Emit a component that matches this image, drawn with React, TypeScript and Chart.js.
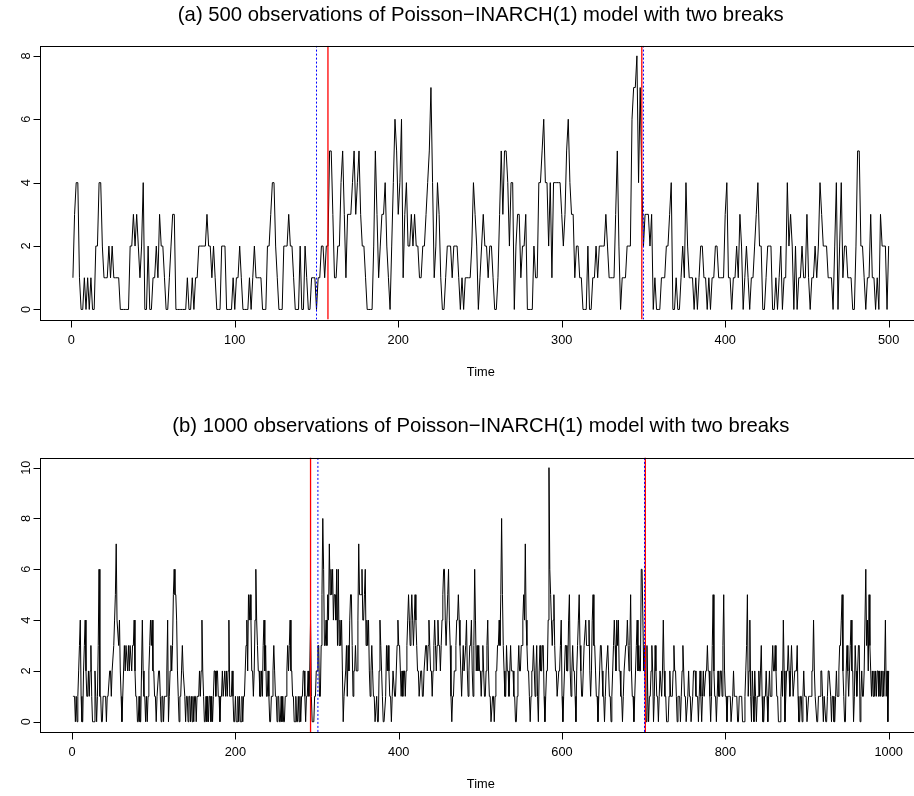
import React, { useEffect, useRef } from 'react';
import { Chart, registerables } from 'chart.js';

Chart.register(...registerables);

// ---------- Panel (a): 500 observations, read in six stretches ----------
const a1 = [1,3,4,4,1,0,0,1,0,1, 0,1,0,0,2,2,4,4,2,1, 1,1,2,1,2,1,1,1,1,0, 0,0,0,0,0,2,2,3,2,3,
  2,1,2,4,0,0,2,0,0,1, 1,2,1,3,2,2,1,0,0,1, 2,3,3,0,0,0,0,0,0,0, 1,0,0,1,0,1,1,2,2];
const a2 = [2,2,2,3,2,2,1,2,1,0, 0,0,2,2,2,0,0,0,0,1, 0,1,1,2,1,0,0,0,0,1, 0,1,2,1,1,1,1,0,0,0,
  2,2,3,4,4,2,1,0,0,0, 2,2,2,3,2,2,1,0,0,0, 2,0,0,2,1,0,0,1,1,1, 0,1,1,2,2,1,2,2,5,5, 3,1,1,2];
const a3 = [2,4,5,3,1,3,3,3,4,5, 3,4,5,3,2,2,1,0,0,0, 0,2,5,3,1,2,3,3,4,2, 1,0,2,4,6,5,3,4,6,1,
  3,4,2,2,3,2,3,2,2,1, 1,2,2,3,4,5,7,4,1,2, 4,3,1,0,0,1,2,2,2,1, 2,2,2,1,0,1,0,1,1,1, 1,2,4,3,2];
const a4 = [0,1,2,3,2,2,1,2,2,1, 0,0,1,3,5,3,5,5,4,2, 4,4,0,2,3,3,1,2,2,3, 0,0,0,0,2,1,1,4,4,5,
  6,4,4,2,4,1,4,4,4,4, 4,3,2,3,5,6,4,3,3,1, 2,2,1,1,0,0,0,2,0,0, 1,1,2,1,2,2,2,2,3,2, 1,1,1,1,3];
const a5 = [5,2,0,1,1,1,2,2,2,6, 7,7,8,4,7,4,2,3,3,3, 2,3,0,1,0,0,0,1,1,1, 2,2,3,4,0,0,1,0,0,1,
  2,1,4,2,1,1,1,0,1,0, 1,2,2,1,1,0,1,0,1,1, 2,2,1,1,1,1,3,4,1,1, 0,1,1,2,1,3,2,0,1,2, 1,0,1];
const a6 = [1,2,3,4,2,2,0,0,1,2, 2,2,0,0,1,0,1,2,0,1, 1,4,2,3,2,0,2,0,1,1, 2,1,1,3,1,0,1,1,2,1,
  2,4,3,2,2,2,1,1,1,0, 2,4,0,2,4,1,2,2,1,1, 1,0,0,2,5,5,2,2,1,0, 1,1,3,1,1,0,1,0,3,2, 2,2,0,2];

// ---------- Panel (b): 1000 observations, read in six stretches ----------
const b1 = [1,1,1,0,1,0,1,2,3,4, 1,0,0,2,3,4,2,1,1,2, 1,2,3,1,0,0,0,2,1,0, 1,3,6,1,1,0,0,1,1,1,
  1,0,1,1,1,2,2,1,2,2, 3,4,5,7,4,4,3,4,2,1, 0,1,2,3,2,3,3,2,3,2, 3,3,2,3,3,4,2,1,1,0,
  0,1,0,0,2,4,2,1,1,0, 1,0,1,2,3,4,3,4,2,2, 1,1,0,1,1,2,2,1,0,1, 1,0,1,1,1,2,4,0,1,2,
  3,2,3,5,6,5,5,4,2,1, 0,1,1,2,3,2,2,1,0,1, 1,0,1,1,0,1,0,1,0,1, 1,0,1,1,1,2,1,2,4,2];
const b2 = [1,0,0,1,0,1,0,1,1,0, 1,0,1,2,2,1,2,2,1,1, 0,1,1,2,1,1,2,1,2,1, 2,4,1,1,1,2,1,0,0,1,
  0,0,1,0,1,0,0,1,0,1, 1,2,3,4,2,5,4,5,4,2, 2,1,2,4,6,4,3,2,2,1, 1,2,1,3,4,2,3,1,1,2,
  1,0,0,1,1,2,3,2,1,1, 0,1,1,0,0,1,0,1,0,0, 1,1,2,3,2,3,4,2,2,1, 1,0,0,1,0,0,1,0,1,0,
  1,1,2,2,1,0,1,1,2,1, 2,4,1,0,0,0,1,1,2,2, 3,3,1,1,3,5,8,6,3,3, 4,3,5,4,7,5,6,5,6,4, 5,5,4,6,3,6];
const b3 = [3,4,3,4,2,0,1,1,2,3, 1,3,2,4,5,5,3,1,2,2, 3,2,2,4,7,5,5,5,6,4, 4,5,6,3,4,3,4,2,1,2,
  3,2,1,1,0,0,1,0,0,2, 4,3,2,1,0,0,0,1,3,2, 3,2,1,1,0,1,2,2,1,1, 2,3,4,3,3,2,1,2,1,2,
  2,1,2,3,4,5,4,3,4,5, 4,3,4,5,4,3,2,2,1,1, 2,2,1,1,2,2,3,3,2,3, 4,3,2,2,1,2,3,4,3,2,
  3,4,3,3,2,3,4,5,6,6, 4,3,3,5,6,4,3,1,0,1, 1,2,2,3,4,4,5,4,3,2, 1,2,3,2,2,3,4,2,1,2, 3,3,4,2,1,3,6,4,2];
const b4 = [3,2,3,2,2,1,2,3,2,1, 1,2,3,4,2,1,1,0,0,1, 1,0,1,2,2,3,3,4,3,5, 8,5,3,2,1,1,3,2,2,1,
  2,3,2,2,2,1,1,0,0,1, 2,3,2,2,3,3,4,5,4,7, 4,3,2,2,1,0,1,2,2,3, 2,1,2,3,1,0,2,3,2,2,
  3,3,1,0,1,2,2,4,10,6, 5,4,3,4,5,3,2,2,1,1, 2,2,3,4,1,0,1,2,3,3, 2,2,4,5,2,1,2,3,2,2,
  1,0,2,3,4,5,3,2,1,1, 2,3,3,4,3,3,3,4,2,1, 2,4,5,3,3,2,1,1,0,1, 2,3,3,2,1,1,0,1,2,2, 3,2,1,1,0,1,2,3,4];
const b5 = [3,2,4,3,4,2,2,1,1,0, 1,2,2,3,3,4,3,2,3,5, 2,1,1,0,1,2,3,4,2,3, 2,2,6,6,6,2,3,1,0,3,
  1,0,1,1,2,3,2,0,1,3, 2,1,1,0,1,2,2,1,2,4, 2,1,1,0,0,0,1,2,1,1, 1,2,3,2,2,1,0,1,1,1,
  0,1,2,3,2,1,1,0,0,1, 2,1,1,0,0,1,2,2,2,1, 1,1,0,1,2,1,0,1,2,1, 1,2,2,3,2,2,1,0,1,3,
  5,2,1,1,0,1,2,1,1,2, 2,1,3,5,2,1,1,0,1,1, 1,1,0,0,1,2,1,1,1,1, 0,0,1,1,1,1,0,0,0,1, 2,3,5,1,2,4,1,0,2];
const b6 = [1,0,2,1,0,1,1,2,1,2, 3,1,0,0,1,1,2,1,0,1, 2,1,1,2,3,2,2,3,2,1, 1,0,0,0,1,2,1,4,2,0,
  1,2,2,3,2,1,2,3,2,1, 1,2,2,2,3,1,0,0,1,1, 0,1,2,1,1,1,0,0,1,1, 1,1,2,2,4,2,1,1,0,0,
  1,1,1,2,2,1,0,1,1,0, 0,1,2,2,2,1,0,1,1,0, 0,1,2,1,1,2,3,3,4,5, 2,1,0,0,2,3,2,1,2,3,
  4,2,2,0,1,3,2,1,2,3, 3,0,1,2,1,1,2,2,6,3, 4,2,5,3,2,1,2,1,2,1, 2,1,2,2,1,2,1,2,1,2, 1,2,4,1,2,0,2];

const seriesA = [...a1, ...a2, ...a3, ...a4, ...a5, ...a6];
const seriesB = [...b1, ...b2, ...b3, ...b4, ...b5, ...b6];

// ---------- ticks, breaks, texts ----------
const xTicksA = [0, 100, 200, 300, 400, 500];
const xTicksB = [0, 200, 400, 600, 800, 1000];
const yTicksA = [0, 2, 4, 6, 8];
const yTicksB = [0, 2, 4, 6, 8, 10];
const solidBreaksA = [157, 349];
const dottedBreaksA = [150, 350];
const solidBreaksB = [292, 702];
const dottedBreaksB = [301, 701];
const titleA = '(a) 500 observations of Poisson\u2212INARCH(1) model with two breaks';
const titleB = '(b) 1000 observations of Poisson\u2212INARCH(1) model with two breaks';
const xAxisTitle = 'Time';

const FONT = '"Liberation Sans", Arial, Helvetica, sans-serif';

type PanelCfg = {
  values: number[];
  xMin: number; xMax: number; yMin: number; yMax: number;
  xTicks: number[]; yTicks: number[];
  solid: number[]; dotted: number[];
  title: string; titleY: number;
  padding: { top: number; bottom: number; left: number; right: number };
};

const PAGE_W = 914;
const CW = 930; // the plot frame runs past the right edge of the picture
const H = 398;

const panelA: PanelCfg = {
  values: seriesA,
  xMin: -18.96, xMax: 519.96, yMin: -0.32, yMax: 8.32,
  xTicks: xTicksA, yTicks: yTicksA,
  solid: solidBreaksA, dotted: dottedBreaksA,
  title: titleA, titleY: 15.5,
  padding: { top: 45.7, bottom: H - 319.6, left: 40.3, right: CW - 921.3 },
};

const panelB: PanelCfg = {
  values: seriesB,
  xMin: -38.96, xMax: 1039.96, yMin: -0.4, yMax: 10.4,
  xTicks: xTicksB, yTicks: yTicksB,
  solid: solidBreaksB, dotted: dottedBreaksB,
  title: titleB, titleY: 426.7 - 398,
  padding: { top: 457.5 - 398, bottom: 796 - 731.9, left: 40.3, right: CW - 921.3 },
};

function makeFramePlugin(cfg: PanelCfg) {
  return {
    id: 'frame',
    afterDraw(chart: any) {
      const { ctx, chartArea: ca, scales } = chart;
      const xs = scales.x;
      const ys = scales.y;
      const L = Math.round(ca.left) + 0.5;
      const R = Math.round(ca.right) + 0.5;
      const T = Math.round(ca.top) + 0.5;
      const B = Math.round(ca.bottom) + 0.5;
      ctx.save();
      ctx.strokeStyle = '#000';
      ctx.lineWidth = 1;
      ctx.strokeRect(L, T, R - L, B - T);

      ctx.fillStyle = '#000';
      ctx.font = '12.8px ' + FONT;
      ctx.textAlign = 'center';
      ctx.textBaseline = 'middle';
      ctx.beginPath();
      for (const v of cfg.xTicks) {
        const px = Math.round(xs.getPixelForValue(v)) + 0.5;
        ctx.moveTo(px, B); ctx.lineTo(px, B + 7);
      }
      for (const v of cfg.yTicks) {
        const py = Math.round(ys.getPixelForValue(v)) + 0.5;
        ctx.moveTo(L, py); ctx.lineTo(L - 7, py);
      }
      ctx.stroke();
      for (const v of cfg.xTicks) {
        ctx.fillText(String(v), xs.getPixelForValue(v), ca.bottom + 20.5);
      }
      for (const v of cfg.yTicks) {
        ctx.save();
        ctx.translate(ca.left - 13.5, ys.getPixelForValue(v));
        ctx.rotate(-Math.PI / 2);
        ctx.fillText(String(v), 0, 0);
        ctx.restore();
      }
      const cx = (ca.left + ca.right) / 2;
      ctx.fillText(xAxisTitle, cx, ca.bottom + 52.5);
      ctx.font = '20.3px ' + FONT;
      ctx.fillText(cfg.title, cx, cfg.titleY);
      ctx.restore();
    },
  };
}

function Panel({ cfg }: { cfg: PanelCfg }) {
  const ref = useRef<HTMLCanvasElement | null>(null);
  useEffect(() => {
    if (!ref.current) return;
    const vline = (b: number) => [
      { x: b, y: cfg.yMin },
      { x: b, y: cfg.yMax },
    ];
    const chart = new Chart(ref.current, {
      type: 'line',
      data: {
        datasets: [
          {
            data: cfg.values.map((v, i) => ({ x: i + 1, y: v })),
            borderColor: '#000000',
            borderWidth: 1,
            pointRadius: 0,
            tension: 0,
            order: 3,
          },
          ...cfg.solid.map((b) => ({
            data: vline(b),
            borderColor: '#ff0000',
            borderWidth: 1.3,
            pointRadius: 0,
            order: 2,
          })),
          ...cfg.dotted.map((b) => ({
            data: vline(b),
            borderColor: '#0000ff',
            borderWidth: 1,
            borderDash: [2, 2],
            pointRadius: 0,
            order: 1,
          })),
        ] as any,
      },
      options: {
        responsive: false,
        animation: false,
        devicePixelRatio: 1,
        events: [],
        layout: { padding: cfg.padding },
        plugins: {
          legend: { display: false },
          tooltip: { enabled: false },
          title: { display: false },
        },
        scales: {
          x: { type: 'linear', min: cfg.xMin, max: cfg.xMax, display: false },
          y: { type: 'linear', min: cfg.yMin, max: cfg.yMax, display: false },
        },
      },
      plugins: [makeFramePlugin(cfg)],
    });
    return () => chart.destroy();
  }, [cfg]);
  return <canvas ref={ref} width={CW} height={H} style={{ display: 'block', width: CW, height: H }} />;
}

export default function App() {
  return (
    <div style={{ position: 'absolute', left: 0, top: 0, width: PAGE_W, height: 796, overflow: 'hidden', background: '#fff' }}>
      <Panel cfg={panelA} />
      <Panel cfg={panelB} />
    </div>
  );
}
